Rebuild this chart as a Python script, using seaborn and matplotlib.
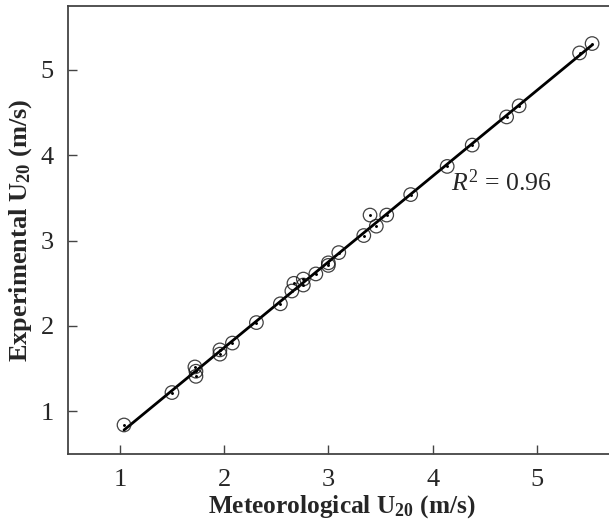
import matplotlib
matplotlib.use('Agg')
import matplotlib.pyplot as plt
import seaborn as sns
import pandas as pd

# ── Data ──────────────────────────────────────────────────────────────────────
met_u20 = [1.04, 1.50, 1.72, 1.73, 1.73, 1.96, 1.96, 2.08, 2.31, 2.54,
           2.65, 2.67, 2.76, 2.76, 2.88, 3.00, 3.00, 3.10, 3.34, 3.40,
           3.46, 3.56, 3.79, 4.14, 4.38, 4.71, 4.83, 5.41, 5.53]
exp_u20 = [0.84, 1.22, 1.52, 1.47, 1.41, 1.72, 1.67, 1.80, 2.04, 2.26,
           2.41, 2.50, 2.55, 2.48, 2.61, 2.74, 2.71, 2.86, 3.06, 3.30,
           3.17, 3.30, 3.54, 3.87, 4.12, 4.45, 4.58, 5.20, 5.31]
r2_label = '$R^2$ = 0.96'
ticks = [1, 2, 3, 4, 5]

df = pd.DataFrame({'met': met_u20, 'exp': exp_u20})

# ── Style ────────────────────────────────────────────────────────────────────
sns.set_style('ticks')
plt.rcParams['font.family'] = ['Liberation Serif', 'DejaVu Serif']
plt.rcParams['mathtext.fontset'] = 'custom'
plt.rcParams['mathtext.rm'] = 'Liberation Serif'
plt.rcParams['mathtext.it'] = 'Liberation Serif:italic'
plt.rcParams['mathtext.bf'] = 'Liberation Serif:bold'

fig = plt.figure(figsize=(6.09, 5.26), dpi=100)
ax = fig.add_axes([0.1112, 0.1369, 0.8987, 0.8517])

sns.regplot(data=df, x='met', y='exp', ax=ax, ci=None, truncate=True,
            scatter_kws={'s': 95, 'facecolors': 'none', 'edgecolors': '#111111',
                         'linewidths': 0.9, 'zorder': 3},
            line_kws={'color': 'black', 'linewidth': 2, 'zorder': 2})
# small centre dot in each circle
ax.scatter(df['met'], df['exp'], s=1.2, color='black', zorder=4)

ax.text(4.18, 3.68, r2_label, fontsize=18.5, va='center', ha='left')

ax.set_xlim(0.5, 5.75)
ax.set_ylim(0.5, 5.75)
ax.set_xticks(ticks)
ax.set_yticks(ticks)
ax.tick_params(direction='in', length=6.5, width=1, labelsize=19,
               color='#444444')
ax.tick_params(axis='x', pad=11)
ax.tick_params(axis='y', pad=10)

for side in ['left', 'bottom', 'top', 'right']:
    ax.spines[side].set_color('#444444')
    ax.spines[side].set_linewidth(1.3)

ax.set_xlabel(r'Meteorological U$_{\mathbf{20}}$ (m/s)', fontsize=18.3,
              fontweight='bold', labelpad=1)
ax.set_ylabel(r'Experimental U$_{\mathbf{20}}$ (m/s)', fontsize=19,
              fontweight='bold', labelpad=5)

fig.savefig('out.png', dpi=100)
plt.close(fig)
